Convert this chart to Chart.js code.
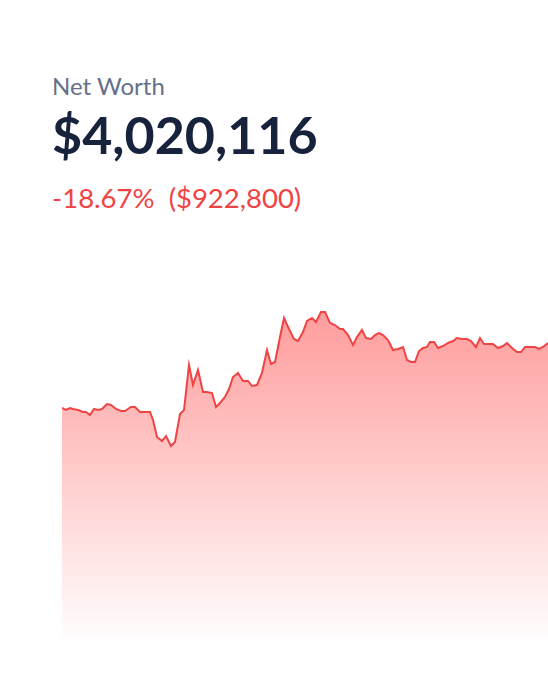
<!DOCTYPE html>
<html>
<head>
<meta charset="utf-8">
<script src="https://cdn.jsdelivr.net/npm/chart.js@4/dist/chart.umd.min.js"></script>
<style>
  html, body { margin: 0; padding: 0; background: #fff; }
  body { width: 548px; height: 674px; position: relative; overflow: hidden; font-family: Lato, "Noto Sans", sans-serif; }
  #label { position: absolute; left: 52px; top: 71px; font-size: 24px; color: #66708a; }
  #total { position: absolute; left: 52px; top: 103px; font-size: 52px; font-weight: 700; color: #17223d; }
  #change { position: absolute; left: 52px; top: 181px; font-size: 27.5px; color: #ef4444; white-space: pre; }
  #wrap { position: absolute; left: 62px; top: 290px; width: 486px; height: 355px; }
</style>
</head>
<body>
<div id="label">Net Worth</div>
<div id="total">$4,020,116</div>
<div id="change">-18.67%  ($922,800)</div>
<div id="wrap"><canvas id="myChart"></canvas></div>
<script>
// day offsets and net worth index
const days = [0,4,8,11,16,21,24,28,32,36,40,45,49,54,59,63,66,69,73,78,84,88,91,95,100,104,109,113,118,122,
  127,131,136,141,145,150,154,158,163,167,171,176,181,186,190,195,200,205,209,213,218,222,227,232,236,241,245,250,254,259,
  263,268,273,278,281,286,291,295,300,304,309,313,317,321,326,331,336,341,345,349,353,357,361,365,368,372,376,381,386,391,
  395,400,405,409,414,418,422,426,431,436,441,445,450,455,459,463,468,473,477,481,486];
const netWorth = [237,235,237,236,235,233,233,230,236,235,236,241,240,236,234,234,236,238,238,233,233,233,225,208,204,209,199,203,231,235,
  280,260,275,253,253,252,238,242,248,256,268,272,264,264,259,260,272,295,281,283,308,327,316,306,304,313,324,327,323,333,
  333,322,320,316,316,310,300,308,315,307,306,310,312,310,305,295,296,298,285,283,283,294,297,298,303,303,297,299,302,304,
  307,306,306,304,298,307,301,301,301,297,299,302,297,293,293,298,298,298,296,298,302];
const yMin = 0;
const yMax = 355;

function makeGradient(context) {
    const chart = context.chart;
    const area = chart.chartArea;
    if (!area) return null;
    const g = chart.ctx.createLinearGradient(0, area.top, 0, area.bottom);
    g.addColorStop(0, 'rgb(255,150,150)');
    g.addColorStop(1, 'rgb(255,255,255)');
    return g;
}

const points = days.map((d, i) => ({ x: d, y: netWorth[i] }));

new Chart(document.getElementById('myChart'), {
    type: 'line',
    data: {
        datasets: [{
            data: points,
            borderColor: '#ef4444',
            borderWidth: 2,
            backgroundColor: makeGradient,
            fill: 'start',
            pointRadius: 0,
            tension: 0,
        }]
    },
    options: {
        responsive: true,
        maintainAspectRatio: false,
        animation: false,
        layout: { padding: 0 },
        scales: {
            x: { type: 'linear', display: false, min: 0, max: days[days.length - 1] },
            y: { display: false, min: yMin, max: yMax },
        },
        plugins: {
            legend: { display: false },
            tooltip: { enabled: false },
        },
    }
});
</script>
</body>
</html>
